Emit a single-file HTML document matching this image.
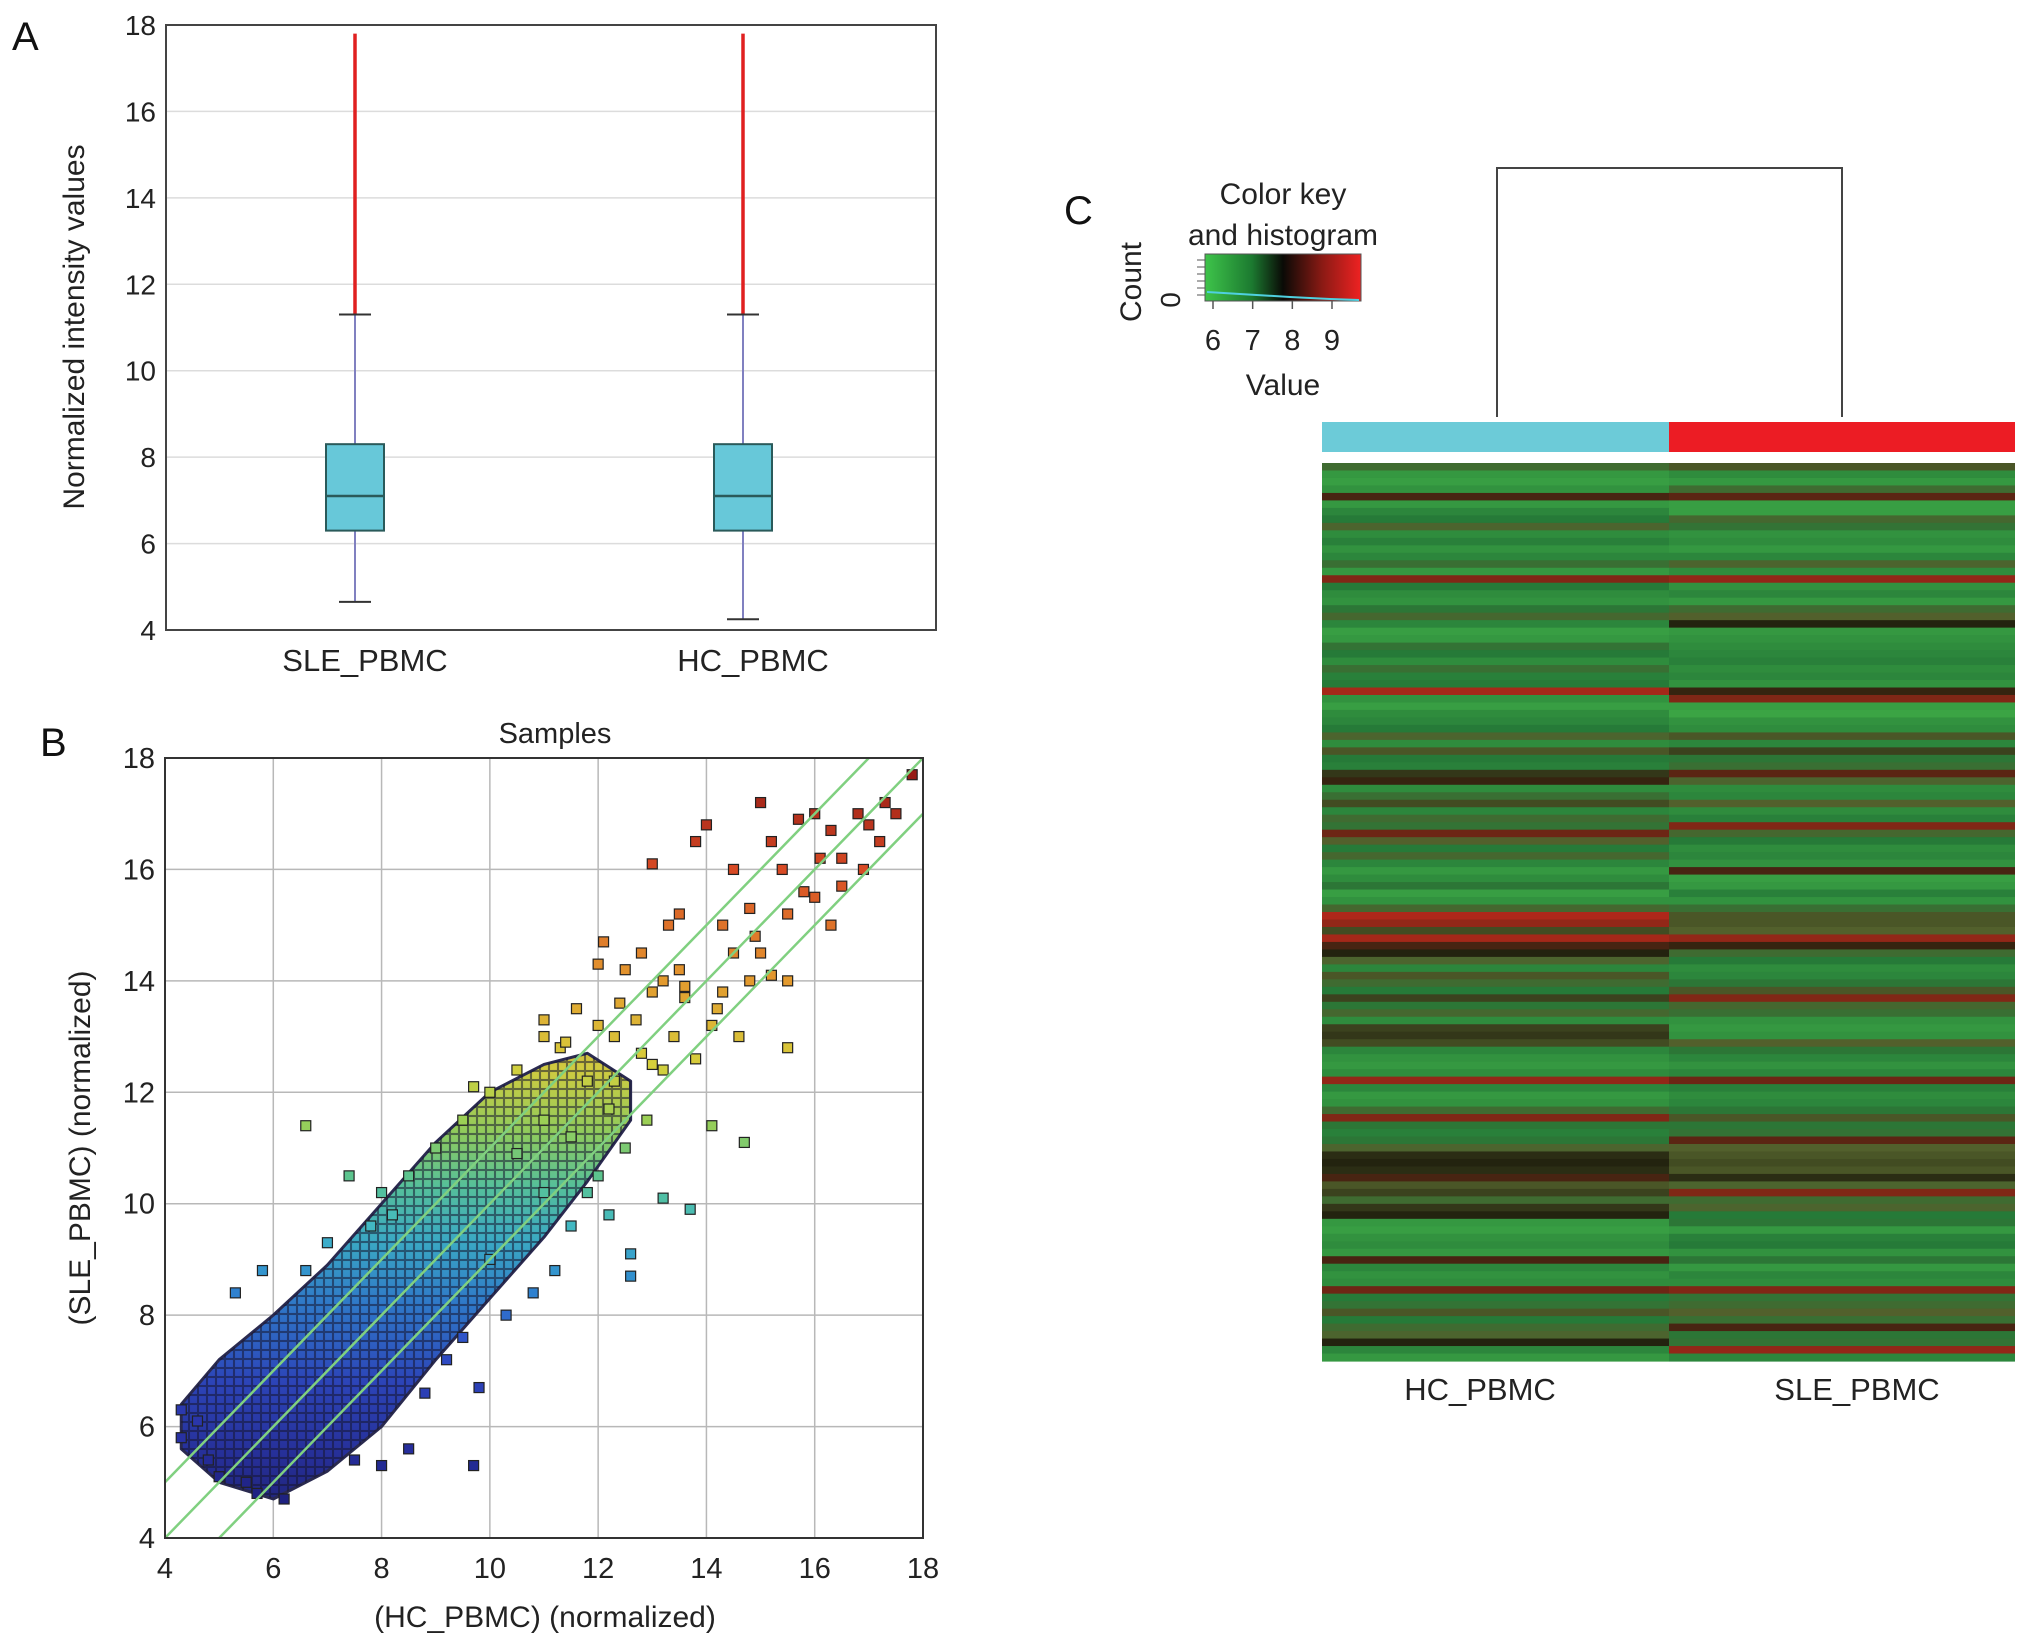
<!DOCTYPE html>
<html><head><meta charset="utf-8"><style>
html,body{margin:0;padding:0;background:#fff;}
svg{display:block;font-family:"Liberation Sans",Arial,sans-serif;}
</style></head><body>
<svg id="fig" width="2032" height="1648" viewBox="0 0 2032 1648" xmlns="http://www.w3.org/2000/svg">
<defs>
<linearGradient id="jetgrad" gradientUnits="userSpaceOnUse" x1="0" y1="1538" x2="0" y2="758">
<stop offset="0" stop-color="#1c1e6a"/><stop offset="0.1" stop-color="#262e96"/><stop offset="0.2" stop-color="#2c44b8"/>
<stop offset="0.3" stop-color="#2f78c8"/><stop offset="0.38" stop-color="#3aa8c4"/><stop offset="0.45" stop-color="#55bf9a"/>
<stop offset="0.52" stop-color="#8fcb5c"/><stop offset="0.6" stop-color="#cfcb40"/><stop offset="0.7" stop-color="#e09a2e"/>
<stop offset="0.85" stop-color="#d84a24"/><stop offset="1" stop-color="#8c1414"/>
</linearGradient>
<pattern id="markers" width="9" height="9" patternUnits="userSpaceOnUse">
<rect x="0.5" y="0.5" width="8" height="8" fill="none" stroke="#151530" stroke-width="1.1" stroke-opacity="0.55"/>
</pattern>
<linearGradient id="keygrad" x1="0" y1="0" x2="1" y2="0">
<stop offset="0" stop-color="#3ec44a"/><stop offset="0.3" stop-color="#1c7a30"/><stop offset="0.5" stop-color="#0a0a06"/>
<stop offset="0.75" stop-color="#8a1a14"/><stop offset="1" stop-color="#ee2222"/>
</linearGradient>
</defs>
<g id="panelA"></g>
<g id="panelB"></g>
<g id="panelC"></g>
</svg>
<script>
// ---------- Panel A data ----------
const boxCategories = ["SLE_PBMC","HC_PBMC"];
const boxQ1 = [6.3, 6.3];
const boxMedian = [7.1, 7.1];
const boxQ3 = [8.3, 8.3];
const boxWhiskerLow = [4.65, 4.25];
const boxWhiskerHigh = [11.3, 11.3];
const boxOutlierMax = [17.8, 17.8];
const boxYTicks = [4,6,8,10,12,14,16,18];

// ---------- Panel B data ----------
const scatterTicks = [4,6,8,10,12,14,16,18];
const denseX = [4.3,5,6,7,8,9,10,11,11.8,12.6];
const denseYMin = [5.6,5.0,4.7,5.2,6.0,7.2,8.3,9.4,10.4,11.5];
const denseYMax = [6.4,7.2,8.0,8.9,10.0,11.1,12.0,12.5,12.7,12.2];
const scatterX = [6.6,7.4,5.3,5.8,6.6,7.0,7.8,8.2,9.0,9.5,10.0,10.5,11,11.3,11.6,12,12.1,12.5,13,13.2,13.5,13.8,14,14.3,14.5,14.8,15,15.2,15.4,15.7,16,16.3,16.5,16.8,17,17.3,17.5,17.8,15.5,15.0,14.8,14.3,14.1,13.4,12.8,12.3,12.7,13.2,13.8,14.2,15.2,15.5,14.6,16,16.3,14.7,14.1,12.9,12.5,12,11.8,11,11.5,11.2,12.2,12.6,12.6,13.2,13.7,10.3,9.8,10.8,8.5,8.0,9.7,7.5,6.2,11,10.5,12.3,11.8,11.0,13.5,16.9,15.8,17.2,16.1,14.9,13.0,9.5,9.2,8.8,10,9.7,8.5,8.0,4.3,4.3,4.6,4.8,5,5.5,5.7,11.5,12.2,13.6,14.5,15.5,16.5,12.8,13.3,12.4,13.0,13.6,12.0,11.4];
const scatterY = [11.4,10.5,8.4,8.8,8.8,9.3,9.6,9.8,11.0,11.5,12.0,12.4,13.3,12.8,13.5,14.3,14.7,14.2,16.1,14.0,15.2,16.5,16.8,15.0,16.0,15.3,17.2,16.5,16.0,16.9,17.0,16.7,16.2,17.0,16.8,17.2,17.0,17.7,15.2,14.5,14.0,13.8,13.2,13.0,12.7,12.2,13.3,12.4,12.6,13.5,14.1,12.8,13.0,15.5,15.0,11.1,11.4,11.5,11.0,10.5,10.2,10.2,9.6,8.8,9.8,9.1,8.7,10.1,9.9,8.0,6.7,8.4,5.6,5.3,5.3,5.4,4.7,11.5,10.9,13.0,12.2,13.0,14.2,16.0,15.6,16.5,16.2,14.8,12.5,7.6,7.2,6.6,9.0,12.1,10.5,10.2,6.3,5.8,6.1,5.4,5.1,5.0,4.8,11.2,11.7,13.7,14.5,14.0,15.7,14.5,15.0,13.6,13.8,13.9,13.2,12.9];
const foldOffsets = [-1,0,1];

// ---------- Panel C data ----------
const heatColumns = ["HC_PBMC","SLE_PBMC"];
const heatHC = [7.2,6.3,6.2,6.4,8.3,6.3,6.6,6.8,7.4,6.5,6.7,6.4,6.6,7.1,6.3,8.6,6.8,6.5,6.4,6.9,7.3,6.6,6.2,6.3,7.0,6.8,6.5,7.1,6.7,6.8,8.8,6.4,6.2,6.5,6.6,6.8,7.4,6.5,7.6,6.8,6.7,7.9,8.2,6.5,7.1,7.7,6.6,7.2,7.0,8.5,7.5,6.8,7.3,6.6,6.3,6.5,6.9,6.2,6.4,7.3,8.9,8.7,7.7,8.8,8.3,8.1,7.4,6.6,7.6,7.2,6.8,7.8,6.9,7.3,6.5,7.8,7.9,7.7,6.6,6.4,6.3,6.5,8.7,6.6,6.3,6.4,7.2,8.6,6.9,6.7,6.9,7.4,8.0,8.1,8.0,8.3,7.6,7.8,7.2,7.9,8.1,6.3,6.2,6.4,6.5,6.3,8.3,6.6,6.4,6.5,8.5,6.8,7.0,7.6,6.8,7.2,7.4,8.1,6.6,6.3];
const heatSLE = [7.6,6.5,6.3,7.2,8.4,6.2,6.2,7.3,7.0,6.4,6.5,6.3,6.6,7.4,6.5,8.7,6.4,6.6,6.3,7.2,7.5,8.1,6.3,6.4,6.5,6.6,6.7,6.5,6.6,6.4,8.2,8.6,6.2,6.1,6.4,6.5,7.6,6.6,7.8,6.9,7.1,8.4,7.4,6.5,6.6,7.5,6.5,6.7,8.6,7.3,6.8,6.5,6.6,6.4,8.3,6.2,6.3,6.7,6.4,7.1,7.6,7.6,7.5,8.7,8.2,7.2,6.8,6.5,6.6,6.9,7.6,8.6,7.3,7.1,6.4,6.3,6.4,7.5,6.9,6.6,6.4,6.6,8.5,6.7,6.5,6.6,6.9,7.6,6.9,7.0,8.4,7.5,7.6,7.7,7.6,8.0,7.4,8.6,7.2,7.4,6.8,6.9,6.3,6.7,6.8,6.4,6.9,6.3,6.6,6.5,8.6,7.0,7.2,7.5,7.1,8.3,6.9,7.0,8.7,6.6];
const keyTicks = [6,7,8,9];

const NS = "http://www.w3.org/2000/svg";
function mk(parent, tag, attrs, text){
  const e = document.createElementNS(NS, tag);
  for (const k in attrs) e.setAttribute(k, attrs[k]);
  if (text !== undefined) e.textContent = text;
  parent.appendChild(e);
  return e;
}

// ===== Panel A =====
(function(){
  const g = document.getElementById('panelA');
  const L=166,R=936,T=25,B=630;
  const y = v => B - (v-4)/(18-4)*(B-T);
  const xc = [355, 743];
  boxYTicks.forEach(t=>{
    const gl = mk(g,'line',{x1:L,x2:R,y1:y(t),y2:y(t),stroke:'#dcdcdc','stroke-width':1.5});
    
    
    const tl = mk(g,'text',{x:L-10,y:y(t)+10,'text-anchor':'end','font-size':28,fill:'#222'},t);
    
    
  });
  const frame = mk(g,'rect',{x:L,y:T,width:R-L,height:B-T,fill:'none',stroke:'#444','stroke-width':2});
  
  
  boxCategories.forEach((c,i)=>{
    const x = xc[i], w=58;
    const o = mk(g,'line',{x1:x,x2:x,y1:y(boxWhiskerHigh[i]),y2:y(boxOutlierMax[i]),stroke:'#e02020','stroke-width':3.5});
    
    
    const wh = mk(g,'line',{x1:x,x2:x,y1:y(boxWhiskerLow[i]),y2:y(boxWhiskerHigh[i]),stroke:'#8080c0','stroke-width':2});
    
    
    [boxWhiskerLow[i],boxWhiskerHigh[i]].forEach(v=>{
      const cap = mk(g,'line',{x1:x-16,x2:x+16,y1:y(v),y2:y(v),stroke:'#333','stroke-width':2});
      
      
    });
    const bx = mk(g,'rect',{x:x-w/2,y:y(boxQ3[i]),width:w,height:y(boxQ1[i])-y(boxQ3[i]),fill:'#67c8d9',stroke:'#2a5a5a','stroke-width':2});
    
    
    const md = mk(g,'line',{x1:x-w/2,x2:x+w/2,y1:y(boxMedian[i]),y2:y(boxMedian[i]),stroke:'#2a5a5a','stroke-width':2.5});
    
    
    const lb = mk(g,'text',{x:x+10,y:671,'text-anchor':'middle','font-size':31,fill:'#222'},c);
    
    
  });
  const yl = mk(g,'text',{x:0,y:0,transform:'translate(84,327) rotate(-90)','text-anchor':'middle','font-size':30,fill:'#222'},'Normalized intensity values');
  
  
  const pl = mk(g,'text',{x:12,y:50,'font-size':40,fill:'#111'},'A');
  
  
})();

// ===== Panel B =====
function jet(v){
  const stops=[[4.5,[28,30,122]],[6,[42,52,168]],[7.5,[47,79,200]],[8.5,[47,134,208]],[9.5,[63,183,200]],[10.5,[92,196,142]],[11.5,[155,207,85]],[12.5,[214,207,60]],[14,[227,154,46]],[16,[216,74,36]],[18,[140,20,20]]];
  if(v<=stops[0][0]) return 'rgb('+stops[0][1]+')';
  for(let i=1;i<stops.length;i++){
    if(v<=stops[i][0]){
      const a=stops[i-1],b=stops[i],t=(v-a[0])/(b[0]-a[0]);
      return 'rgb('+a[1].map((c,k)=>Math.round(c+(b[1][k]-c)*t)).join(',')+')';
    }
  }
  return 'rgb('+stops[stops.length-1][1]+')';
}
(function(){
  const g = document.getElementById('panelB');
  const L=165,R=923,T=758,B=1538;
  const x = v => L + (v-4)/14*(R-L);
  const y = v => B - (v-4)/14*(B-T);
  scatterTicks.forEach(t=>{
    const gv = mk(g,'line',{x1:x(t),x2:x(t),y1:T,y2:B,stroke:'#b8b8b8','stroke-width':1.5});
    
    
    const gh = mk(g,'line',{x1:L,x2:R,y1:y(t),y2:y(t),stroke:'#b8b8b8','stroke-width':1.5});
    
    
    const tx = mk(g,'text',{x:x(t),y:B+40,'text-anchor':'middle','font-size':29,fill:'#222'},t);
    
    
    const ty = mk(g,'text',{x:L-10,y:y(t)+10,'text-anchor':'end','font-size':29,fill:'#222'},t);
    
    
  });
  let pts = denseX.map((v,i)=>x(v)+','+y(denseYMax[i]));
  for(let i=denseX.length-1;i>=0;i--) pts.push(x(denseX[i])+','+y(denseYMin[i]));
  const cloud = mk(g,'polygon',{points:pts.join(' '),fill:'url(#jetgrad)',stroke:'#2a2a50','stroke-width':3,'stroke-linejoin':'round'});
  
  
  const tex = mk(g,'polygon',{points:pts.join(' '),fill:'url(#markers)',stroke:'none'});
  
  
  scatterX.forEach((vx,i)=>{
    const vy = scatterY[i];
    const p = mk(g,'rect',{x:x(vx)-5,y:y(vy)-5,width:10,height:10,fill:jet(vy),stroke:'#222','stroke-width':1.2});
    
    
  });
  foldOffsets.forEach(o=>{
    const x0 = Math.max(4,4-o), x1 = Math.min(18,18-o);
    const ln = mk(g,'line',{x1:x(x0),y1:y(x0+o),x2:x(x1),y2:y(x1+o),stroke:'#80d080','stroke-width':2.5});
    
    
  });
  const fr = mk(g,'rect',{x:L,y:T,width:R-L,height:B-T,fill:'none',stroke:'#333','stroke-width':2});
  
  
  const ttl = mk(g,'text',{x:555,y:743,'text-anchor':'middle','font-size':29,fill:'#222'},'Samples');
  
  
  const xl = mk(g,'text',{x:545,y:1627,'text-anchor':'middle','font-size':30,fill:'#222'},'(HC_PBMC) (normalized)');
  
  
  const yl = mk(g,'text',{x:0,y:0,transform:'translate(90,1148) rotate(-90)','text-anchor':'middle','font-size':30,fill:'#222'},'(SLE_PBMC) (normalized)');
  
  
  const pl = mk(g,'text',{x:40,y:756,'font-size':40,fill:'#111'},'B');
  
  
})();

// ===== Panel C =====
function heatColor(v){
  const stops=[[6,[62,170,70]],[6.8,[38,122,56]],[7.5,[82,96,44]],[8.1,[35,35,15]],[8.8,[165,40,25]],[9.5,[225,30,30]]];
  if(v<=stops[0][0]) return 'rgb('+stops[0][1]+')';
  for(let i=1;i<stops.length;i++){
    if(v<=stops[i][0]){
      const a=stops[i-1],b=stops[i],t=(v-a[0])/(b[0]-a[0]);
      return 'rgb('+a[1].map((c,k)=>Math.round(c+(b[1][k]-c)*t)).join(',')+')';
    }
  }
  return 'rgb('+stops[stops.length-1][1]+')';
}
(function(){
  const g = document.getElementById('panelC');
  const L=1322,R=2015,T=463,B=1361, mid=1669;
  const cols = [heatHC, heatSLE];
  const colX = [[L,mid],[mid,R]];
  cols.forEach((arr,c)=>{
    const h = (B-T)/arr.length;
    arr.forEach((v,i)=>{
      const r = mk(g,'rect',{x:colX[c][0],y:T+i*h,width:colX[c][1]-colX[c][0],height:h+0.6,fill:heatColor(v)});
      
      
    });
  });
  const sb1 = mk(g,'rect',{x:L,y:422,width:mid-L,height:30,fill:'#6ccbd8'});
  
  
  const sb2 = mk(g,'rect',{x:mid,y:422,width:R-mid,height:30,fill:'#ec1c24'});
  
  
  const dg = mk(g,'path',{d:'M1497,417 V168 H1842 V417',fill:'none',stroke:'#444','stroke-width':2});
  
  
  heatColumns.forEach((c,i)=>{
    const t = mk(g,'text',{x:[1480,1857][i],y:1400,'text-anchor':'middle','font-size':31,fill:'#222'},c);
    
    
  });
  const kx=1205,kw=156,ky=254,kh=47;
  const kv = v => kx + 8 + (v-6)/3.0*(1332-1213);
  const kr = mk(g,'rect',{x:kx,y:ky,width:kw,height:kh,fill:'url(#keygrad)',stroke:'#555','stroke-width':1});
  
  
  const hist = mk(g,'path',{d:'M1207,292 L1240,294 L1290,297 L1330,299 L1359,300',fill:'none',stroke:'#4fd0e0','stroke-width':2});
  
  
  for(let i=0;i<6;i++){
    const tk = mk(g,'line',{x1:kx-8,x2:kx,y1:ky+6+i*7,y2:ky+6+i*7,stroke:'#555','stroke-width':1});
    
    
  }
  keyTicks.forEach(t=>{
    const xx = kv(t);
    const tk = mk(g,'line',{x1:xx,x2:xx,y1:ky+kh,y2:ky+kh+8,stroke:'#555','stroke-width':1.5});
    
    
    const tl = mk(g,'text',{x:xx,y:350,'text-anchor':'middle','font-size':29,fill:'#222'},t);
    
    
  });
  const t1 = mk(g,'text',{x:1283,y:204,'text-anchor':'middle','font-size':30,fill:'#222'},'Color key');
  
  
  const t2 = mk(g,'text',{x:1283,y:245,'text-anchor':'middle','font-size':30,fill:'#222'},'and histogram');
  
  
  const t3 = mk(g,'text',{x:1283,y:395,'text-anchor':'middle','font-size':30,fill:'#222'},'Value');
  
  
  const t4 = mk(g,'text',{x:0,y:0,transform:'translate(1141,282) rotate(-90)','text-anchor':'middle','font-size':30,fill:'#222'},'Count');
  
  
  const t5 = mk(g,'text',{x:0,y:0,transform:'translate(1180,300) rotate(-90)','text-anchor':'middle','font-size':28,fill:'#222'},'0');
  
  
  const pl = mk(g,'text',{x:1064,y:224,'font-size':40,fill:'#111'},'C');
  
  
})();
</script>
</body></html>
